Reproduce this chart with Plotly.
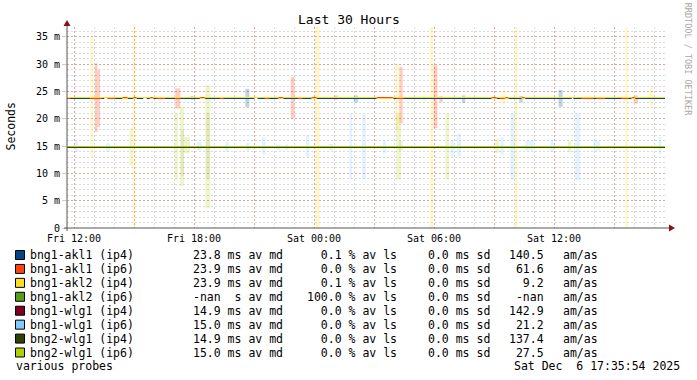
import plotly.graph_objects as go
import pandas as pd

# ---------------- data ----------------
BASE = pd.Timestamp("2025-12-05 12:00")          # Fri 12:00
RANGE_H = (-0.35, 29.65)                          # hours relative to BASE
LINE_END_H = 29.55
Y_MAX = 36.83                                     # ms

NAMES = ["bng1-akl1 (ip4)", "bng1-akl1 (ip6)", "bng1-akl2 (ip4)", "bng1-akl2 (ip6)",
         "bng1-wlg1 (ip4)", "bng1-wlg1 (ip6)", "bng2-wlg1 (ip4)", "bng2-wlg1 (ip6)"]
COLORS = ["#004586", "#ff420e", "#ffde20", "#579d1c", "#7e0021", "#83caff", "#314004", "#aecf00"]
LEG_MEDIAN = ["23.8 ms", "23.9 ms", "23.9 ms", "-nan  s", "14.9 ms", "15.0 ms", "14.9 ms", "15.0 ms"]
LEG_LOSS = ["0.1", "0.0", "0.1", "100.0", "0.0", "0.0", "0.0", "0.0"]
LEG_SD = ["0.0", "0.0", "0.0", "0.0", "0.0", "0.0", "0.0", "0.0"]
LEG_AMAS = ["140.5", "61.6", "9.2", "-nan", "142.9", "21.2", "137.4", "27.5"]

# median lines (ms): base value, dip value, dip intervals (hours), gaps (hours)
MED_BASE = [23.73, 23.91, 23.91, None, 14.75, 14.93, 14.75, 14.93]
MED_DIP = [None, 23.73, 23.73, None, None, None, None, None]
AKL1_IP4_GAPS = [(1.515, 1.685), (3.465, 3.635), (9.015, 9.185), (24.885, 24.965)]
AKL1_IP6_DIPS = [(-0.35, -0.2), (0.8, 1.385), (1.685, 2.05), (4.135, 4.55), (5.05, 5.3),
                 (7.3, 7.465), (9.55, 9.75), (11.215, 11.415), (16.135, 16.465),
                 (21.3, 21.55), (25.385, 25.965), (26.135, 26.55), (27.385, 27.715)]
AKL2_IP4_DIPS = [(2.415, 2.685), (2.965, 3.135), (3.8, 3.965), (6.3, 6.55), (10.215, 10.465),
                 (11.885, 12.135), (15.135, 15.965), (20.885, 21.135), (21.55, 21.715),
                 (22.385, 22.55), (27.885, 28.05)]

# smoke bars per series: (start h, end h, low ms, high ms)
SMOKE = {
    0: [(5.85, 5.95, 23.5, 24.2), (8.565, 8.765, 22.1, 25.5), (13.985, 14.2, 23.0, 24.3),
        (19.4, 19.565, 22.9, 24.3), (22.265, 22.435, 23.0, 24.2), (24.225, 24.435, 22.2, 25.3)],
    1: [(1.05, 1.175, 17.6, 30.2), (1.175, 1.3, 18.5, 29.0), (5.065, 5.315, 21.9, 25.6),
        (10.835, 11.035, 20.1, 27.7), (12.985, 13.2, 23.5, 24.3), (16.265, 16.435, 19.2, 29.5),
        (17.975, 18.175, 18.3, 29.8), (18.265, 18.435, 23.0, 24.2), (27.985, 28.2, 22.8, 24.3)],
    2: [(0.815, 0.95, 13.0, 35.0), (2.465, 2.635, 23.5, 24.3), (2.95, 3.085, 0.0, 40.0),
        (12.065, 12.285, 0.0, 40.0), (16.065, 16.235, 17.9, 30.2), (17.45, 17.575, 23.0, 24.5),
        (17.8, 17.965, 0.0, 40.0), (21.375, 21.55, 22.6, 25.2), (22.035, 22.185, 0.0, 40.0),
        (27.565, 27.7, 0.0, 40.0), (28.775, 28.935, 22.1, 25.8)],
    5: [(0.05, 0.2, 14.0, 16.0), (1.6, 1.8, 14.0, 15.5), (6.135, 6.385, 14.2, 15.8),
        (7.565, 7.735, 14.0, 15.8), (8.6, 8.8, 14.2, 15.6), (9.4, 9.565, 13.4, 16.6),
        (10.1, 10.315, 14.3, 15.3), (10.55, 10.715, 14.3, 15.3), (11.6, 11.765, 12.9, 17.0),
        (12.75, 12.95, 14.3, 15.4), (13.765, 13.9, 8.9, 21.0), (14.4, 14.6, 8.9, 20.8),
        (15.45, 15.6, 13.7, 16.0), (18.815, 18.985, 13.1, 16.1), (19.15, 19.35, 13.1, 17.2),
        (21.315, 21.485, 13.4, 16.6), (21.815, 22.035, 8.8, 21.0), (22.565, 22.985, 14.2, 16.0),
        (23.815, 23.985, 13.9, 16.0), (25.065, 25.315, 8.8, 21.0), (25.985, 26.315, 14.2, 16.0),
        (29.235, 29.365, 13.5, 16.7)],
    6: [(5.35, 5.5, 9.5, 18.0), (6.6, 6.8, 9.0, 21.1), (16.25, 16.45, 14.2, 16.0)],
    7: [(2.785, 2.935, 11.4, 18.4), (5.035, 5.2, 8.8, 21.0), (5.3, 5.5, 7.7, 22.2),
        (5.5, 5.8, 13.7, 16.7), (6.565, 6.815, 3.6, 26.2), (16.1, 16.35, 8.8, 21.0),
        (18.565, 18.765, 8.9, 21.0), (21.065, 21.265, 13.7, 16.4), (24.7, 24.865, 13.9, 16.0)],
}
SMOKE_ALPHA = [0.24, 0.26, 0.22, 0.2, 0.2, 0.22, 0.08, 0.2]

Y_TICKS = [0, 5, 10, 15, 20, 25, 30, 35]
Y_TICKTEXT = ["0", "5 m", "10 m", "15 m", "20 m", "25 m", "30 m", "35 m"]
X_TICK_H = [0, 3, 6, 9, 12, 15, 18, 21, 24, 27]
X_TICKTEXT = ["Fri 12:00", "", "Fri 18:00", "", "Sat 00:00", "", "Sat 06:00", "", "Sat 12:00", ""]

TITLE = "Last 30 Hours"
Y_TITLE = "Seconds"
FOOT_LEFT = "various probes"
FOOT_RIGHT = "Sat Dec  6 17:35:54 2025"
WATERMARK = "RRDTOOL / TOBI OETIKER"

# ---------------- helpers ----------------
W, H = 697, 380
PL, PR, PT, PB = 67, 667, 27, 228
MONO = "DejaVu Sans Mono"


def t(h):
    return BASE + pd.Timedelta(hours=h)


def px(xp):
    return (xp - PL) / (PR - PL)


def py(yp):
    return (PB - yp) / (PB - PT)


def rgba(hexc, a):
    hexc = hexc.lstrip("#")
    r, g, b = int(hexc[0:2], 16), int(hexc[2:4], 16), int(hexc[4:6], 16)
    return f"rgba({r},{g},{b},{a})"


def nb(s):
    return s.replace(" ", "\u00a0")


fig = go.Figure()

# smoke
for i in range(8):
    bars = SMOKE.get(i, [])
    if not bars:
        continue
    xs = [t((b[0] + b[1]) / 2) for b in bars]
    ws = [(b[1] - b[0]) * 3600000 for b in bars]
    base = [b[2] for b in bars]
    hh = [b[3] - b[2] for b in bars]
    fig.add_trace(go.Bar(x=xs, y=hh, base=base, width=ws,
                         marker=dict(color=rgba(COLORS[i], SMOKE_ALPHA[i]), line=dict(width=0)),
                         showlegend=False, hoverinfo="skip"))


def step_line(base, dip, dips):
    xs, ys = [t(RANGE_H[0])], [base]
    for a, b in dips:
        a = max(a, RANGE_H[0])
        xs += [t(a), t(a), t(b), t(b)]
        ys += [base, dip, dip, base]
    xs.append(t(LINE_END_H))
    ys.append(base)
    return xs, ys


def gap_line(base, gaps):
    xs, ys = [], []
    cur = RANGE_H[0]
    for a, b in gaps:
        xs += [t(cur), t(a), None]
        ys += [base, base, None]
        cur = b
    xs += [t(cur), t(LINE_END_H)]
    ys += [base, base]
    return xs, ys


# median lines (draw order as rrdtool)
order = [0, 1, 2, 4, 5, 6, 7]
for i in order:
    if i == 0:
        xs, ys = gap_line(MED_BASE[0], AKL1_IP4_GAPS)
    elif i == 1:
        xs, ys = step_line(MED_BASE[1], MED_DIP[1], AKL1_IP6_DIPS)
    elif i == 2:
        xs, ys = step_line(MED_BASE[2], MED_DIP[2], AKL2_IP4_DIPS)
    else:
        xs, ys = [t(RANGE_H[0]), t(LINE_END_H)], [MED_BASE[i], MED_BASE[i]]
    fig.add_trace(go.Scatter(x=xs, y=ys, mode="lines", line=dict(color=COLORS[i], width=1),
                             showlegend=False, hoverinfo="skip", connectgaps=False))

MGRID = "rgba(240,70,70,0.38)"
GRID = "rgba(150,150,150,0.35)"

fig.update_layout(
    width=W, height=H,
    margin=dict(l=PL, r=W - PR, t=PT, b=H - PB),
    paper_bgcolor="white", plot_bgcolor="white",
    barmode="overlay", showlegend=False,
    font=dict(family=MONO, size=10, color="#000"),
    xaxis=dict(type="date", range=[t(RANGE_H[0]), t(RANGE_H[1])],
               tickmode="array", tickvals=[t(h) for h in X_TICK_H], ticktext=X_TICKTEXT,
               showgrid=True, gridcolor=MGRID, griddash="2px,2px", gridwidth=1,
               ticks="", ticklabelstandoff=3,
               showline=False, zeroline=False,
               tickfont=dict(family=MONO, size=10, color="#000"),
               minor=dict(dtick=3600000, tick0=t(0), showgrid=True, gridcolor=GRID,
                          griddash="2px,2px", gridwidth=1)),
    yaxis=dict(range=[0, Y_MAX], tickmode="array", tickvals=Y_TICKS, ticktext=Y_TICKTEXT,
               showgrid=True, gridcolor=MGRID, griddash="2px,2px", gridwidth=1,
               ticks="outside", ticklen=4, tickcolor=MGRID, showline=False, zeroline=False,
               tickfont=dict(family=MONO, size=10, color="#000"),
               minor=dict(dtick=1, tick0=0, showgrid=True, gridcolor=GRID,
                          griddash="2px,2px", gridwidth=1)),
)

shapes = []
AX = "#555555"
ARROW = "#8b1010"
# axis lines
shapes.append(dict(type="line", xref="paper", yref="paper", x0=px(PL), x1=px(PL),
                   y0=py(PB + 3), y1=py(24), line=dict(color=AX, width=1)))
shapes.append(dict(type="line", xref="paper", yref="paper", x0=px(PL - 3), x1=px(670),
                   y0=py(PB), y1=py(PB), line=dict(color=AX, width=1)))
# arrows
shapes.append(dict(type="path", xref="paper", yref="paper",
                   path=f"M {px(63.5)} {py(26)} L {px(70.5)} {py(26)} L {px(67)} {py(20)} Z",
                   fillcolor=ARROW, line=dict(width=0)))
shapes.append(dict(type="path", xref="paper", yref="paper",
                   path=f"M {px(669)} {py(224.5)} L {px(669)} {py(231.5)} L {px(675)} {py(228)} Z",
                   fillcolor=ARROW, line=dict(width=0)))

annotations = []
ROW0, ROWSTEP = 255.0, 13.93
for i in range(8):
    yc = ROW0 + ROWSTEP * i
    shapes.append(dict(type="rect", xref="paper", yref="paper",
                       x0=px(15.5), x1=px(24.5), y0=py(yc + 4.5), y1=py(yc - 4.5),
                       fillcolor=COLORS[i], line=dict(color="#000", width=1)))
    pieces = [
        (29.8, NAMES[i]),
        (192.5, LEG_MEDIAN[i] + " av md"),
        (306.5, f"{LEG_LOSS[i]:>5} % av ls"),
        (427.5, LEG_SD[i] + " ms sd"),
        (508.5, f"{LEG_AMAS[i]:>5}"),
        (562.5, "am/as"),
    ]
    for xp, txt in pieces:
        annotations.append(dict(xref="paper", yref="paper", x=px(xp), y=py(yc),
                                xanchor="left", yanchor="middle", text=nb(txt), showarrow=False,
                                borderpad=0, borderwidth=0,
                                font=dict(family=MONO, size=11.5, color="#000")))

yfoot = ROW0 + ROWSTEP * 8
annotations.append(dict(xref="paper", yref="paper", x=px(16), y=py(yfoot), xanchor="left",
                        yanchor="middle", text=nb(FOOT_LEFT), showarrow=False, borderpad=0,
                        borderwidth=0, font=dict(family=MONO, size=11.5, color="#000")))
annotations.append(dict(xref="paper", yref="paper", x=px(680.3), y=py(yfoot), xanchor="right",
                        yanchor="middle", text=nb(FOOT_RIGHT), showarrow=False, borderpad=0,
                        borderwidth=0, font=dict(family=MONO, size=11.5, color="#000")))
annotations.append(dict(xref="paper", yref="paper", x=px(348.5), y=py(19.5), xanchor="center",
                        yanchor="middle", text=TITLE, showarrow=False, borderpad=0, borderwidth=0,
                        font=dict(family=MONO, size=13, color="#000")))
annotations.append(dict(xref="paper", yref="paper", x=px(10.5), y=py(127), xanchor="center",
                        yanchor="middle", text=Y_TITLE, textangle=-90, showarrow=False,
                        borderpad=0, borderwidth=0,
                        font=dict(family=MONO, size=11.5, color="#000")))
annotations.append(dict(xref="paper", yref="paper", x=px(688.3), y=py(59), xanchor="center",
                        yanchor="middle", text=nb(WATERMARK), textangle=90, showarrow=False,
                        borderpad=0, borderwidth=0,
                        font=dict(family=MONO, size=8.5, color="#a8a8a8")))

fig.update_layout(shapes=shapes, annotations=annotations)
fig.write_html("out.html", config={"displayModeBar": False},
               post_script="document.body.style.margin='0';document.body.style.overflow='hidden';")
